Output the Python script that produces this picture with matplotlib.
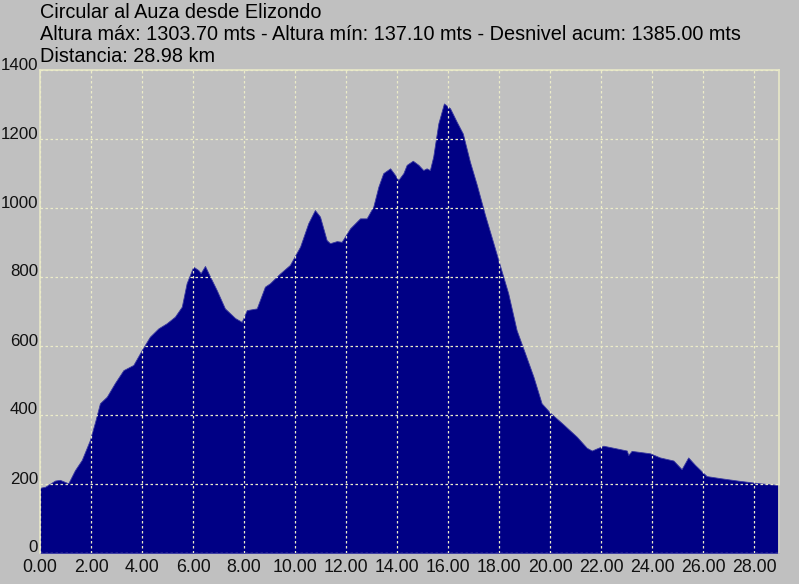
import matplotlib
matplotlib.use("Agg")
import matplotlib.pyplot as plt
import matplotlib.transforms as mtransforms

title_lines = [
    "Circular al Auza desde Elizondo",
    "Altura máx: 1303.70 mts - Altura mín: 137.10 mts - Desnivel acum: 1385.00 mts",
    "Distancia: 28.98 km",
]

dist_km = [0.00, 0.20, 0.59, 0.78, 1.11, 1.37, 1.64, 1.96, 2.16, 2.35, 2.62, 2.94,
           3.27, 3.66, 3.99, 4.31, 4.64, 4.97, 5.29, 5.56, 5.75, 6.01, 6.21, 6.30,
           6.47, 6.67, 6.93, 7.25, 7.45, 7.65, 7.91, 8.11, 8.50, 8.82, 9.02, 9.41,
           9.80, 10.20, 10.52, 10.78, 10.98, 11.24, 11.37, 11.64, 11.83, 12.16, 12.55,
           12.81, 13.07, 13.27, 13.46, 13.73, 13.92, 14.05, 14.25, 14.38, 14.62, 14.84,
           15.03, 15.16, 15.29, 15.42, 15.62, 15.84, 16.08, 16.34, 16.58, 16.86, 17.13,
           17.45, 17.78, 18.11, 18.36, 18.69, 19.02, 19.35, 19.67, 20.00, 20.52, 21.05,
           21.44, 21.64, 21.83, 22.09, 22.62, 23.01, 23.07, 23.20, 23.92, 24.31, 24.84,
           25.16, 25.42, 25.69, 26.14, 26.67, 27.45, 28.24, 28.95, 28.98]
altitude_m = [189, 192, 210, 212, 202, 240, 270, 328, 380, 434, 453, 493,
              530, 545, 588, 627, 651, 666, 685, 714, 782, 830, 820, 811,
              832, 801, 762, 709, 695, 681, 670, 704, 709, 772, 782, 810,
              835, 888, 956, 994, 975, 907, 898, 904, 902, 941, 970,
              970, 1004, 1062, 1101, 1115, 1096, 1081, 1101, 1125, 1137, 1125,
              1110, 1115, 1110, 1149, 1245, 1303, 1289, 1250, 1216, 1134, 1067,
              980, 898, 815, 753, 646, 579, 511, 434, 407, 373, 337,
              305, 297, 303, 311, 303, 297, 284, 296, 289, 277, 268,
              243, 277, 255, 223, 217, 209, 202, 197, 196]

x_ticks = [0, 2, 4, 6, 8, 10, 12, 14, 16, 18, 20, 22, 24, 26, 28]
y_ticks = [0, 200, 400, 600, 800, 1000, 1200, 1400]

W, H = 799, 584
bg = "#c0c0c0"
fill_col = "#000085"
grid_col = "#ececc8"

fig = plt.figure(figsize=(W / 100, H / 100), dpi=100, facecolor=bg)
ax = fig.add_axes([40 / W, (H - 553) / H, (779 - 40) / W, (553 - 70) / H])
ax.set_facecolor(bg)

ax.fill_between(dist_km, altitude_m, 0, color=fill_col, linewidth=0.6,
                edgecolor="#3a3aa0", zorder=2)

ax.set_xlim(0, 28.98)
ax.set_ylim(0, 1400)
ax.set_xticks(x_ticks)
ax.set_yticks(y_ticks)
ax.set_xticklabels(["%.2f" % v for v in x_ticks])
ax.set_yticklabels([str(v) for v in y_ticks])
ax.tick_params(axis="x", length=0, labelsize=12.8, colors="#111111", pad=4)
ax.tick_params(axis="y", length=0, labelsize=12.2, colors="#111111", pad=1.5)
off = mtransforms.ScaledTranslation(0, 5 / 100, fig.dpi_scale_trans)
for lbl in ax.get_yticklabels():
    lbl.set_fontfamily("Liberation Sans")
    lbl.set_verticalalignment("center")
    lbl.set_transform(lbl.get_transform() + off)
for lbl in ax.get_xticklabels():
    lbl.set_fontfamily("Liberation Sans")

ax.grid(True, color=grid_col, linestyle=(0, (2, 2)), linewidth=0.9, zorder=3)
ax.set_axisbelow(False)
for s in ["top", "right", "left"]:
    ax.spines[s].set_color("#e8e8c8")
    ax.spines[s].set_linewidth(1.2)
ax.spines["bottom"].set_visible(False)

for i, t in enumerate(title_lines):
    fig.text(40 / W, 1 - (13 + 22 * i) / H, t, fontsize=14.3, family="Liberation Sans",
             color="#000000", va="center", ha="left")

fig.savefig("out.png", dpi=100, facecolor=bg)
